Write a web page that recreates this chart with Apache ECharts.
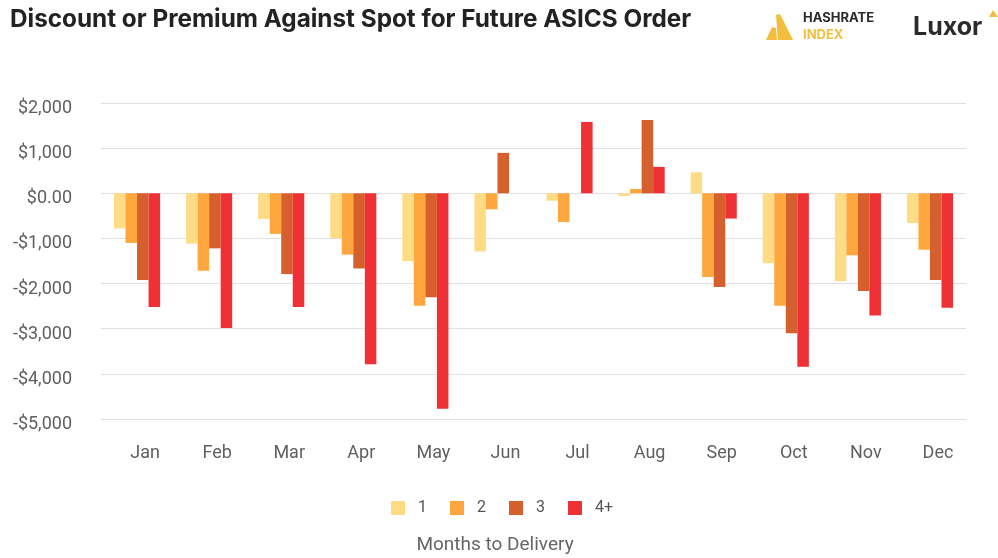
<!DOCTYPE html>
<html>
<head>
<meta charset="utf-8">
<script src="https://cdn.jsdelivr.net/npm/echarts@6/dist/echarts.min.js"></script>
<style>
  html, body { margin: 0; padding: 0; background: #fff; }
  #chart { width: 998px; height: 558px; }
</style>
</head>
<body>
<div id="chart"></div>
<script>
const months = ['Jan', 'Feb', 'Mar', 'Apr', 'May', 'Jun', 'Jul', 'Aug', 'Sep', 'Oct', 'Nov', 'Dec'];
const seriesNames = ['1', '2', '3', '4+'];
const oneMonth  = [-780, -1115, -570, -1000, -1500, -1290, -165, -60, 465, -1550, -1950, -660];
const twoMonth  = [-1100, -1715, -900, -1360, -2490, -355, -635, 95, -1855, -2490, -1375, -1250];
const threeMonth = [-1920, -1220, -1790, -1665, -2305, 895, 0, 1625, -2075, -3100, -2165, -1920];
const fourPlus  = [-2520, -2985, -2520, -3785, -4775, 0, 1580, 585, -560, -3845, -2705, -2535];
const colors = ['#FEDC86', '#FEA73F', '#D5602D', '#EF3135'];

function money(v) {
  if (v === 0) return '$0.00';
  const s = '$' + Math.abs(v).toLocaleString('en-US');
  return v < 0 ? '-' + s : s;
}

const values = [oneMonth, twoMonth, threeMonth, fourPlus];
const chart = echarts.init(document.getElementById('chart'));
chart.setOption({
  animation: false,
  color: colors,
  title: {
    text: 'Discount or Premium Against Spot for Future ASICS Order',
    left: 5, top: 3,
    textStyle: { fontFamily: 'Inter', fontWeight: 'bold', fontSize: 24.3, color: '#222' }
  },
  grid: { left: 101, right: 32, top: 103, bottom: 139 },
  legend: {
    data: seriesNames,
    bottom: 37, left: 386,
    itemWidth: 14, itemHeight: 14, itemGap: 23,
    icon: 'rect',
    textStyle: { fontFamily: 'Roboto', fontSize: 16, color: '#555', padding: [0, 0, 0, 8] }
  },
  xAxis: {
    type: 'category',
    data: months,
    axisLine: { show: false },
    axisTick: { show: false },
    axisLabel: { fontFamily: 'Roboto', fontSize: 18, color: '#5f5f5f', margin: 25, padding: [0, 0, 0, 16] }
  },
  yAxis: {
    type: 'value',
    min: -5000, max: 2000, interval: 1000,
    axisLabel: {
      fontFamily: 'Roboto', fontSize: 18, color: '#5f5f5f', margin: 29,
      verticalAlign: 'top', lineHeight: 11, formatter: money
    },
    splitLine: { lineStyle: { color: '#e0e0e0' } }
  },
  graphic: [
    { type: 'polygon', shape: { points: [[772, 27], [776, 28], [777, 40], [766, 40]] }, style: { fill: '#F3BE3E' } },
    { type: 'polygon', shape: { points: [[776, 15], [780, 14], [793, 40], [778, 40]] }, style: { fill: '#F3BE3E' } },
    { type: 'text', left: 803, top: 12, style: { text: 'HASHRATE', font: 'bold 13px Inter', fill: '#2a2a2a', letterSpacing: 3.6 } },
    { type: 'text', left: 803, top: 29, style: { text: 'INDEX', font: 'bold 13px Inter', fill: '#F3BE3E', letterSpacing: 3.6 } },
    { type: 'text', left: 913, top: 15, style: { text: 'Luxor', font: 'bold 25px Inter', fill: '#2a2a2a' } },
    { type: 'polygon', shape: { points: [[993, 10], [998, 17], [989, 17]] }, style: { fill: '#F3BE3E' } },
    { type: 'text', x: 495, y: 536, style: { text: 'Months to Delivery', font: '19px Roboto', fill: '#666', align: 'center' } }
  ],
  series: seriesNames.map((name, i) => ({
    name: name,
    type: 'bar',
    data: values[i],
    barGap: '0%',
    barCategoryGap: '36%',
    itemStyle: { color: colors[i] }
  }))
});
</script>
</body>
</html>
